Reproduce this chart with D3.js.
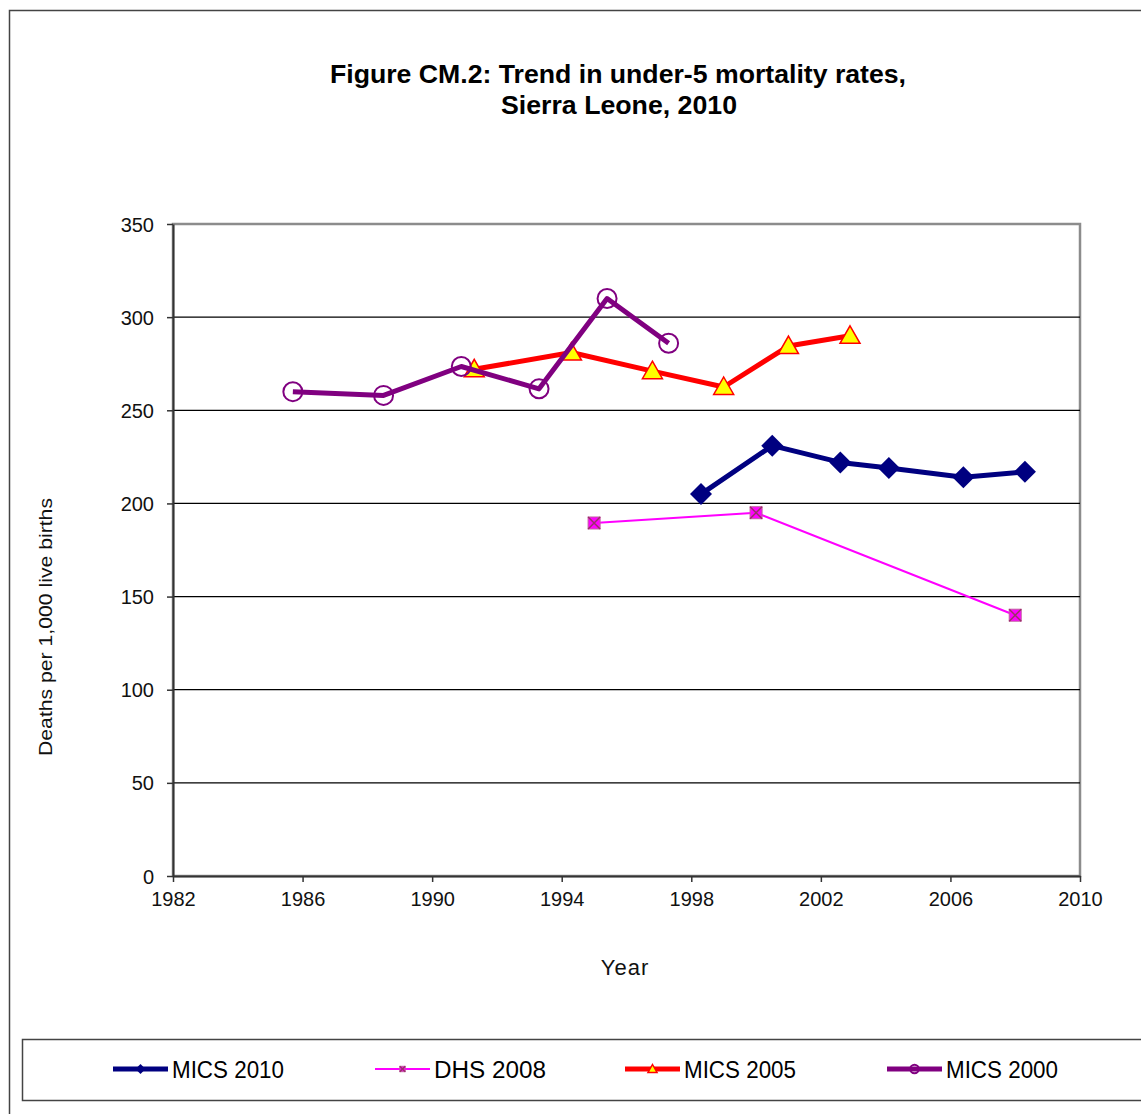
<!DOCTYPE html>
<html>
<head>
<meta charset="utf-8">
<script src="https://cdn.jsdelivr.net/npm/d3@7"></script>
<style>
  body { margin: 0; background: #fff; }
  text { font-family: "Liberation Sans", Arial, sans-serif; }
</style>
</head>
<body>
<div id="chart"></div>
<script>
// data
var yearTicks = [1982, 1986, 1990, 1994, 1998, 2002, 2006, 2010];
var valueTicks = [0, 50, 100, 150, 200, 250, 300, 350];

var mics2010Years = [1998.3, 2000.5, 2002.6, 2004.1, 2006.4, 2008.3];
var mics2010Values = [205, 231, 222, 219, 214, 217];

var dhs2008Years = [1995.0, 2000.0, 2008.0];
var dhs2008Values = [189.5, 195, 140];

var mics2005Years = [1991.3, 1994.3, 1996.8, 1999.0, 2001.0, 2002.9];
var mics2005Values = [272, 281, 271, 262.5, 284.5, 290];

var mics2000Years = [1985.7, 1988.5, 1990.9, 1993.3, 1995.4, 1997.3];
var mics2000Values = [260, 258, 273.5, 261.5, 310, 286];

var seriesNames = ["MICS 2010", "DHS 2008", "MICS 2005", "MICS 2000"];

var svgWidth = 1141;
var svgHeight = 1114;

var margin = { top: 224, left: 173 };
var width = 1080 - margin.left;
var height = 876 - margin.top;

var svg = d3.select("#chart").append("svg")
  .attr("width", svgWidth)
  .attr("height", svgHeight);

// outer frame
svg.append("rect")
  .attr("x", 9.5).attr("y", 10.5)
  .attr("width", 1140).attr("height", 1110)
  .attr("fill", "none").attr("stroke", "#444").attr("stroke-width", 1.5);

// title
svg.append("text")
  .attr("x", 618).attr("y", 83)
  .attr("text-anchor", "middle")
  .attr("font-size", "25px").attr("font-weight", "bold")
  .attr("textLength", 576).attr("lengthAdjust", "spacingAndGlyphs")
  .text("Figure CM.2: Trend in under-5 mortality rates,");
svg.append("text")
  .attr("x", 619).attr("y", 114)
  .attr("text-anchor", "middle")
  .attr("font-size", "25px").attr("font-weight", "bold")
  .attr("textLength", 236).attr("lengthAdjust", "spacingAndGlyphs")
  .text("Sierra Leone, 2010");

var chartGroup = svg.append("g")
  .attr("transform", `translate(${margin.left}, ${margin.top})`);

var xLinearScale = d3.scaleLinear().domain([1982, 2010]).range([0, width]);
var yLinearScale = d3.scaleLinear().domain([0, 350]).range([height, 0]);

// plot area border (gray)
chartGroup.append("rect")
  .attr("x", 0).attr("y", 0)
  .attr("width", width).attr("height", height)
  .attr("fill", "none").attr("stroke", "#8c8c8c").attr("stroke-width", 2.5);

// gridlines
chartGroup.selectAll(".grid")
  .data(valueTicks.filter(d => d > 0 && d < 350))
  .enter().append("line")
  .attr("x1", 0).attr("x2", width)
  .attr("y1", d => yLinearScale(d)).attr("y2", d => yLinearScale(d))
  .attr("stroke", "#000").attr("stroke-width", 1.3);

// axes
var bottomAxis = d3.axisBottom(xLinearScale).tickValues(yearTicks).tickFormat(d3.format("d")).tickSize(6).tickSizeOuter(0);
var leftAxis = d3.axisLeft(yLinearScale).tickValues(valueTicks).tickSize(6).tickSizeOuter(0);

var xg = chartGroup.append("g")
  .attr("transform", `translate(0, ${height})`)
  .call(bottomAxis);
var yg = chartGroup.append("g").call(leftAxis);

[xg, yg].forEach(function(g) {
  g.select(".domain").attr("stroke", "#333").attr("stroke-width", 2);
  g.selectAll(".tick line").attr("stroke", "#333").attr("stroke-width", 1.5);
  g.selectAll(".tick text").attr("font-size", "20px").attr("fill", "#111")
    .style("font-family", "'Liberation Sans', Arial, sans-serif");
});
xg.selectAll(".tick text").attr("dy", "1.05em");
yg.selectAll(".tick text").attr("x", -19).attr("dy", "0.35em");

// axis titles
svg.append("text")
  .attr("transform", "translate(52, 627) rotate(-90)")
  .attr("text-anchor", "middle")
  .attr("font-size", "19px").attr("fill", "#111")
  .attr("textLength", 258).attr("lengthAdjust", "spacingAndGlyphs")
  .text("Deaths per 1,000 live births");

svg.append("text")
  .attr("x", 625).attr("y", 975)
  .attr("text-anchor", "middle")
  .attr("font-size", "22px").attr("fill", "#111")
  .attr("letter-spacing", "1px")
  .text("Year");

var line = d3.line()
  .x(d => xLinearScale(d[0]))
  .y(d => yLinearScale(d[1]));

function pairs(years, values) {
  return years.map((y, i) => [y, values[i]]);
}

var series = [
  { name: seriesNames[0], data: pairs(mics2010Years, mics2010Values), color: "#000080", width: 5, marker: "diamond" },
  { name: seriesNames[1], data: pairs(dhs2008Years, dhs2008Values), color: "#ff00ff", width: 2, marker: "square" },
  { name: seriesNames[2], data: pairs(mics2005Years, mics2005Values), color: "#ff0000", width: 5, marker: "triangle" },
  { name: seriesNames[3], data: pairs(mics2000Years, mics2000Values), color: "#800080", width: 5, marker: "circle" }
];

function drawMarker(g, type, x, y, scale) {
  scale = scale || 1;
  if (type === "diamond") {
    var s = 11 * scale;
    g.append("path")
      .attr("d", `M${x},${y - s}L${x + s},${y}L${x},${y + s}L${x - s},${y}Z`)
      .attr("fill", "#000080");
  } else if (type === "square") {
    var h = 6 * scale;
    g.append("rect")
      .attr("x", x - h).attr("y", y - h).attr("width", 2 * h).attr("height", 2 * h)
      .attr("fill", "#ff00ff").attr("stroke", "#c060a0").attr("stroke-width", 1);
    g.append("path")
      .attr("d", `M${x - h},${y - h}L${x + h},${y + h}M${x + h},${y - h}L${x - h},${y + h}`)
      .attr("stroke", "#993366").attr("stroke-width", 1.5);
  } else if (type === "triangle") {
    var t = 10 * scale;
    g.append("path")
      .attr("d", `M${x},${y - t}L${x + t},${y + t * 0.75}L${x - t},${y + t * 0.75}Z`)
      .attr("fill", "#ffff00").attr("stroke", "#ff0000").attr("stroke-width", 1.5);
  } else if (type === "circle") {
    g.append("circle")
      .attr("cx", x).attr("cy", y).attr("r", 9.5 * scale)
      .attr("fill", "none").attr("stroke", "#800080").attr("stroke-width", 2);
  }
}

// drawing order: MICS 2010, DHS 2008, MICS 2005, MICS 2000 on top
series.forEach(function(s) {
  var g = chartGroup.append("g");
  g.append("path")
    .datum(s.data)
    .attr("d", line)
    .attr("fill", "none")
    .attr("stroke", s.color)
    .attr("stroke-width", s.width)
    .attr("stroke-linejoin", "round");
  s.data.forEach(function(d) {
    drawMarker(g, s.marker, xLinearScale(d[0]), yLinearScale(d[1]));
  });
});

// legend
svg.append("rect")
  .attr("x", 22.5).attr("y", 1039.5)
  .attr("width", 1130).attr("height", 61)
  .attr("fill", "#fff").attr("stroke", "#444").attr("stroke-width", 1.5);

var legendX = [113, 375, 625, 887];
series.forEach(function(s, i) {
  var lg = svg.append("g");
  var x0 = legendX[i];
  lg.append("line")
    .attr("x1", x0).attr("x2", x0 + 55)
    .attr("y1", 1069).attr("y2", 1069)
    .attr("stroke", s.color).attr("stroke-width", s.width);
  drawMarker(lg, s.marker, x0 + 27.5, 1069, 0.45);
  lg.append("text")
    .attr("x", x0 + 59).attr("y", 1078)
    .attr("font-size", "23px").attr("fill", "#000")
    .attr("textLength", 112).attr("lengthAdjust", "spacingAndGlyphs")
    .text(s.name);
});
</script>
</body>
</html>
